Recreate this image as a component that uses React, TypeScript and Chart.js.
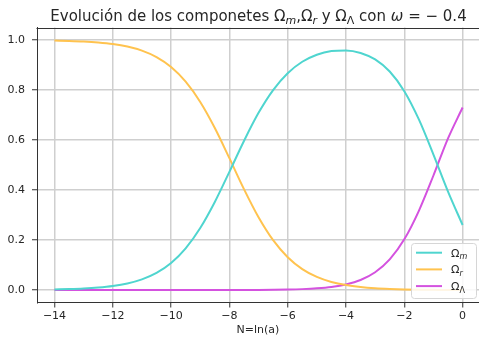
import { useEffect, useRef } from "react";
import { Chart, registerables } from "chart.js";

Chart.register(...registerables);

// e-fold number N = ln(a)
const nValues = [
  -14, -13.5, -13, -12.5, -12, -11.5, -11, -10.5, -10, -9.5, -9, -8.5, -8, -7.5,
  -7, -6.5, -6, -5.5, -5, -4.5, -4, -3.5, -3, -2.5, -2, -1.5, -1, -0.5, 0,
];

// density parameter of matter
const omegaM = [
  0.0022, 0.0037, 0.006, 0.0099, 0.0161, 0.0263, 0.0427, 0.0685, 0.1081, 0.1666,
  0.2479, 0.3521, 0.4726, 0.5962, 0.7086, 0.7998, 0.8672, 0.9129, 0.9411, 0.9557,
  0.9583, 0.9483, 0.9223, 0.8738, 0.7952, 0.6822, 0.5415, 0.3934, 0.26,
];

// density parameter of radiation
const omegaR = [
  0.9978, 0.9963, 0.994, 0.9901, 0.9839, 0.9737, 0.9573, 0.9315, 0.8919, 0.8334,
  0.7521, 0.6479, 0.5273, 0.4036, 0.291, 0.1992, 0.131, 0.0836, 0.0523, 0.0322,
  0.0196, 0.0118, 0.0069, 0.004, 0.0022, 0.0011, 0.0006, 0.0002, 0.0001,
];

// density parameter of dark energy (w = -0.4)
const omegaL = [
  0, 0, 0, 0, 0, 0, 0, 0, 0, 0, 0, 0, 0.0001, 0.0002, 0.0004, 0.0009, 0.0018,
  0.0035, 0.0066, 0.0121, 0.0222, 0.0399, 0.0708, 0.1222, 0.2026, 0.3167, 0.458,
  0.6063, 0.73,
];

const xTicks = [-14, -12, -10, -8, -6, -4, -2, 0];
const yTicks = [0, 0.2, 0.4, 0.6, 0.8, 1.0];

const COLOR_M = "#4fd5cf";
const COLOR_R = "#ffc34f";
const COLOR_L = "#d452df";

const FONT = "'DejaVu Sans', sans-serif";
const TEXT = "#262626";

type Seg = { t: string; sub?: boolean; it?: boolean };

function drawRich(ctx: CanvasRenderingContext2D, segs: Seg[], x: number, y: number, size: number, align: "left" | "center") {
  const fontFor = (s: Seg) => `${s.it ? "italic " : ""}${s.sub ? Math.round(size * 0.7) : size}px ${FONT}`;
  let total = 0;
  for (const s of segs) {
    ctx.font = fontFor(s);
    total += ctx.measureText(s.t).width;
  }
  let cx = align === "center" ? x - total / 2 : x;
  ctx.textAlign = "left";
  ctx.textBaseline = "alphabetic";
  for (const s of segs) {
    ctx.font = fontFor(s);
    ctx.fillText(s.t, cx, s.sub ? y + size * 0.22 : y);
    cx += ctx.measureText(s.t).width;
  }
}

const titleSegs: Seg[] = [
  { t: "Evolución de los componetes Ω" },
  { t: "m", sub: true, it: true },
  { t: ",Ω" },
  { t: "r", sub: true, it: true },
  { t: " y Ω" },
  { t: "Λ", sub: true },
  { t: " con " },
  { t: "ω", it: true },
  { t: " = − 0.4" },
];

const legendItems: { color: string; segs: Seg[] }[] = [
  { color: COLOR_M, segs: [{ t: "Ω" }, { t: "m", sub: true, it: true }] },
  { color: COLOR_R, segs: [{ t: "Ω" }, { t: "r", sub: true, it: true }] },
  { color: COLOR_L, segs: [{ t: "Ω" }, { t: "Λ", sub: true }] },
];

const decorPlugin = {
  id: "decor",
  afterDatasetsDraw(chart: any) {
    const { ctx, chartArea } = chart;
    const top = Math.round(chartArea.top) + 0.5;
    const left = Math.round(chartArea.left) - 0.5;
    const right = Math.round(chartArea.right) - 0.5;
    const bottom = Math.round(chartArea.bottom) + 0.5;
    ctx.save();
    ctx.strokeStyle = "#333";
    ctx.lineWidth = 1;
    ctx.beginPath();
    ctx.moveTo(left, top);
    ctx.lineTo(right, top);
    ctx.lineTo(right, bottom);
    ctx.stroke();
    ctx.restore();
  },
  afterDraw(chart: any) {
    const { ctx } = chart;
    ctx.save();
    ctx.fillStyle = TEXT;
    drawRich(ctx, titleSegs, 258.5, 21, 15, "center");

    ctx.font = `11px ${FONT}`;
    ctx.textAlign = "center";
    ctx.textBaseline = "middle";
    ctx.fillText("N=ln(a)", 258, 330);

    // legend box
    const bx = 411.5, by = 243.5, bw = 65, bh = 55, r = 3;
    ctx.beginPath();
    ctx.moveTo(bx + r, by);
    ctx.lineTo(bx + bw - r, by);
    ctx.quadraticCurveTo(bx + bw, by, bx + bw, by + r);
    ctx.lineTo(bx + bw, by + bh - r);
    ctx.quadraticCurveTo(bx + bw, by + bh, bx + bw - r, by + bh);
    ctx.lineTo(bx + r, by + bh);
    ctx.quadraticCurveTo(bx, by + bh, bx, by + bh - r);
    ctx.lineTo(bx, by + r);
    ctx.quadraticCurveTo(bx, by, bx + r, by);
    ctx.closePath();
    ctx.fillStyle = "rgba(255,255,255,0.85)";
    ctx.fill();
    ctx.strokeStyle = "#d6d6d6";
    ctx.lineWidth = 1;
    ctx.stroke();

    legendItems.forEach((item, i) => {
      const ly = 252.7 + i * 16.7;
      ctx.strokeStyle = item.color;
      ctx.lineWidth = 2;
      ctx.beginPath();
      ctx.moveTo(416, ly);
      ctx.lineTo(442, ly);
      ctx.stroke();
      ctx.fillStyle = TEXT;
      drawRich(ctx, item.segs, 451, ly + 4, 11, "left");
    });
    ctx.restore();
  },
};

export default function App() {
  const canvasRef = useRef<HTMLCanvasElement | null>(null);

  useEffect(() => {
    const canvas = canvasRef.current;
    if (!canvas) return;
    const mk = (vals: number[]) => nValues.map((x, i) => ({ x, y: vals[i] }));
    const ds = (label: string, vals: number[], color: string) => ({
      label,
      data: mk(vals),
      borderColor: color,
      backgroundColor: color,
      borderWidth: 2,
      pointRadius: 0,
      fill: false,
      cubicInterpolationMode: "monotone" as const,
    });

    const chart = new Chart(canvas, {
      type: "line",
      data: {
        datasets: [
          ds("Ωm", omegaM, COLOR_M),
          ds("Ωr", omegaR, COLOR_R),
          ds("ΩΛ", omegaL, COLOR_L),
        ],
      },
      options: {
        animation: false,
        responsive: false,
        maintainAspectRatio: false,
        layout: { padding: { top: 27.5, right: 0, left: 0, bottom: 0 } },
        plugins: {
          legend: { display: false },
          title: { display: false },
          tooltip: { enabled: false },
        },
        scales: {
          x: {
            type: "linear",
            min: -14.6,
            max: 0.7,
            afterBuildTicks: (scale: any) => {
              scale.ticks = xTicks.map((v) => ({ value: v }));
            },
            afterFit: (scale: any) => {
              scale.height = 34.5;
            },
            grid: {
              color: "#cfcfcf",
              lineWidth: 1.5,
              drawTicks: true,
              tickLength: 5,
              tickColor: "#333",
              tickWidth: 1,
            },
            border: { display: true, color: "#333", width: 1 },
            ticks: {
              color: TEXT,
              font: { family: FONT, size: 11 },
              padding: 2,
              maxRotation: 0,
              autoSkip: false,
              callback: (v: any) => {
                const n = Number(v);
                return n < 0 ? "−" + Math.abs(n) : String(n);
              },
            },
          },
          y: {
            type: "linear",
            min: -0.05,
            max: 1.05,
            afterBuildTicks: (scale: any) => {
              scale.ticks = yTicks.map((v) => ({ value: v }));
            },
            afterFit: (scale: any) => {
              scale.width = 37;
            },
            grid: {
              color: "#cfcfcf",
              lineWidth: 1.5,
              drawTicks: true,
              tickLength: 5,
              tickColor: "#333",
              tickWidth: 1,
            },
            border: { display: true, color: "#333", width: 1 },
            ticks: {
              color: TEXT,
              font: { family: FONT, size: 11 },
              padding: 7,
              autoSkip: false,
              callback: (v: any) => Number(v).toFixed(1),
            },
          },
        },
      },
      plugins: [decorPlugin],
    });

    return () => chart.destroy();
  }, []);

  return (
    <div style={{ position: "fixed", left: 0, top: 0, width: 479, height: 337, overflow: "hidden", background: "#fff" }}>
      <canvas ref={canvasRef} width={483} height={337} style={{ width: 483, height: 337, display: "block" }} />
    </div>
  );
}
